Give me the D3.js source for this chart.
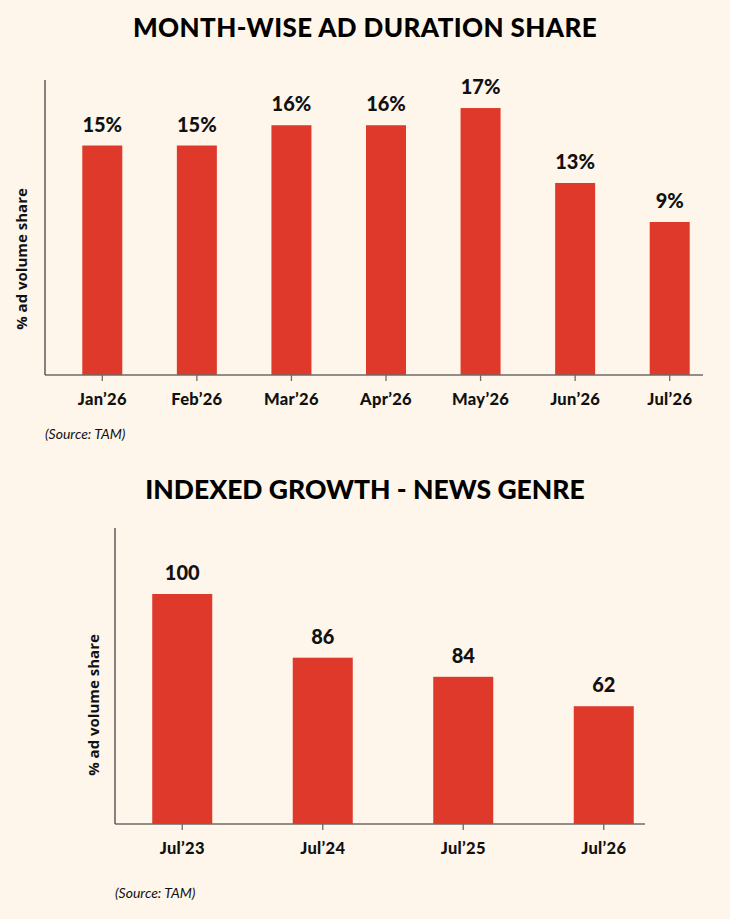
<!DOCTYPE html>
<html lang="en">
<head>
    <meta charset="UTF-8">
    <title>Ad duration share</title>
    <script src="https://cdnjs.cloudflare.com/ajax/libs/d3/7.8.5/d3.min.js"></script>
    <style>
        body { margin: 0; background: #fef6ea; }
        svg { display: block; }
    </style>
</head>
<body>
    <script>
        // month-wise chart data
        var months = ["Jan’26", "Feb’26", "Mar’26", "Apr’26", "May’26", "Jun’26", "Jul’26"];
        var shareValues = [14.7, 14.7, 16.0, 16.0, 17.1, 12.3, 9.8];
        var shareLabels = ["15%", "15%", "16%", "16%", "17%", "13%", "9%"];

        // indexed growth chart data
        var years = ["Jul’23", "Jul’24", "Jul’25", "Jul’26"];
        var growthValues = [100, 72.3, 64.0, 51.2];
        var growthLabels = ["100", "86", "84", "62"];

        var barColor = "#de392b";
        var axisColor = "#6e6a66";

        var svg = d3.select("body")
            .append("svg")
            .attr("width", 730)
            .attr("height", 919)
            .style("background-color", "#fef6ea");

        // draws one bar chart block
        function drawChart(cfg) {
            var g = svg.append("g");

            g.append("text")
                .attr("x", 365)
                .attr("y", cfg.titleY)
                .attr("text-anchor", "middle")
                .style("font-family", "Lato")
                .style("font-weight", 900)
                .style("font-size", cfg.titleSize + "px")
                .style("letter-spacing", cfg.titleSpacing + "px")
                .text(cfg.title);

            var x = d3.scaleBand().domain(cfg.cats).range(cfg.xRange).paddingInner(0).paddingOuter(0);
            var y = d3.scaleLinear().domain(cfg.yDomain).range([cfg.base, cfg.yTop]);

            g.selectAll("rect.bar")
                .data(cfg.values)
                .enter()
                .append("rect")
                .attr("class", "bar")
                .attr("x", function(d, i) { return x(cfg.cats[i]) + x.bandwidth() / 2 - cfg.barW / 2; })
                .attr("y", function(d) { return y(d); })
                .attr("width", cfg.barW)
                .attr("height", function(d) { return cfg.base - y(d); })
                .attr("fill", barColor);

            g.selectAll("text.val")
                .data(cfg.values)
                .enter()
                .append("text")
                .attr("class", "val")
                .attr("x", function(d, i) { return x(cfg.cats[i]) + x.bandwidth() / 2; })
                .attr("y", function(d) { return y(d) - 14; })
                .attr("text-anchor", "middle")
                .style("font-family", "Lato")
                .style("font-weight", 900)
                .style("font-size", "20px")
                .style("fill", "#111")
                .text(function(d, i) { return cfg.labels[i]; });

            // x axis with ticks, domain line drawn separately
            var axis = g.append("g")
                .attr("transform", "translate(0," + cfg.base + ")")
                .call(d3.axisBottom(x).tickSize(6).tickSizeOuter(0).tickPadding(12));
            axis.select(".domain").remove();
            axis.selectAll(".tick line").attr("stroke", axisColor).attr("stroke-width", 1.3);
            axis.selectAll(".tick text")
                .style("font-family", "Lato")
                .style("font-weight", 900)
                .style("font-size", "16.5px")
                .style("letter-spacing", "0.3px")
                .style("fill", "#111");

            g.append("line")
                .attr("x1", cfg.axisX).attr("x2", cfg.axisEnd)
                .attr("y1", cfg.base).attr("y2", cfg.base)
                .attr("stroke", axisColor).attr("stroke-width", 1.5);
            g.append("line")
                .attr("x1", cfg.axisX).attr("x2", cfg.axisX)
                .attr("y1", cfg.axisTop).attr("y2", cfg.base)
                .attr("stroke", "#444").attr("stroke-width", 1.3);

            g.append("text")
                .attr("transform", "translate(" + cfg.yLabelX + "," + cfg.yLabelY + ") rotate(-90)")
                .attr("text-anchor", "middle")
                .style("font-family", "Open Sans")
                .style("font-weight", 700)
                .style("font-size", "15px")
                .style("fill", "#111")
                .text("% ad volume share");

            g.append("text")
                .attr("x", cfg.axisX)
                .attr("y", cfg.sourceY)
                .style("font-family", "Lato")
                .style("font-style", "italic")
                .style("font-size", "14px")
                .style("fill", "#111")
                .text("(Source: TAM)");
        }

        drawChart({
            title: "MONTH-WISE AD DURATION SHARE",
            titleY: 37, titleSize: 26, titleSpacing: 0.4,
            cats: months, values: shareValues, labels: shareLabels,
            xRange: [55, 717], barW: 40,
            yDomain: [0, 18], base: 375, yTop: 94,
            axisX: 45, axisEnd: 703, axisTop: 80,
            yLabelX: 27, yLabelY: 259, sourceY: 439
        });

        drawChart({
            title: "INDEXED GROWTH - NEWS GENRE",
            titleY: 499, titleSize: 26.5, titleSpacing: 0,
            cats: years, values: growthValues, labels: growthLabels,
            xRange: [112, 674], barW: 60,
            yDomain: [0, 100], base: 824, yTop: 594,
            axisX: 115, axisEnd: 645, axisTop: 528,
            yLabelX: 99, yLabelY: 705, sourceY: 898
        });
    </script>
</body>
</html>
